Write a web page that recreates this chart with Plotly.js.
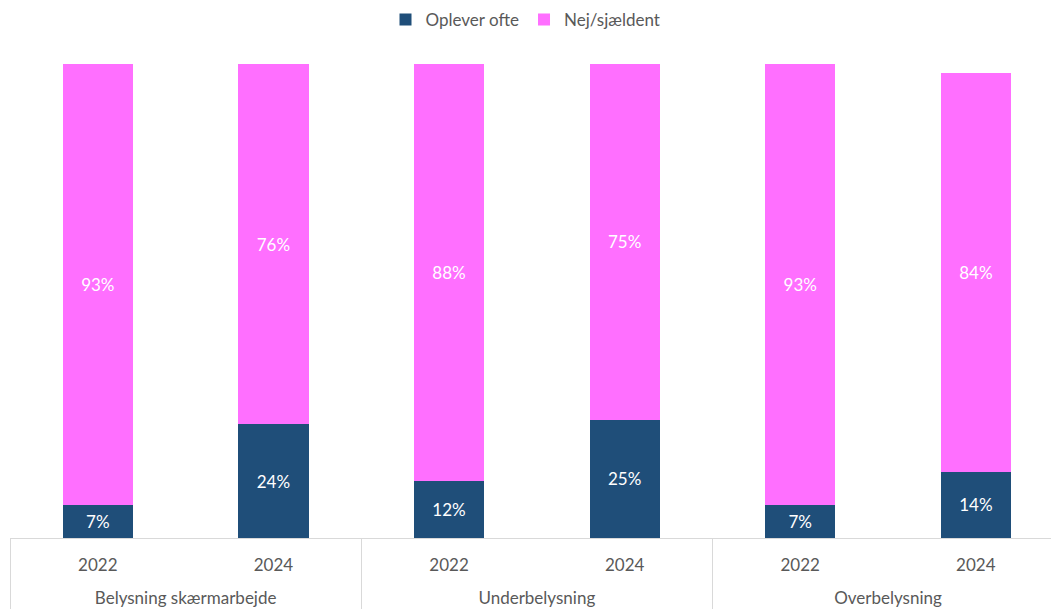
<!DOCTYPE html>
<html><head><meta charset="utf-8">
<script src="https://cdn.plot.ly/plotly-3.0.1.min.js"></script>
<style>html,body{margin:0;padding:0;background:#fff}#chart{width:1051px;height:610px}</style>
</head><body><div id="chart"></div>
<script>
const groups = ["Belysning skærmarbejde","Belysning skærmarbejde","Underbelysning","Underbelysning","Overbelysning","Overbelysning"];
const years = ["2022","2024","2022","2024","2022","2024"];
const oplever = [7,24,12,25,7,14];
const nej = [93,76,88,75,93,84];
const seriesNames = ["Oplever ofte","Nej/sjældent"];
const colors = ["#1F4E79","#FF6FFF"];
const FONT = "Lato, 'Open Sans', sans-serif";

// a blank second line under each year widens the gap to the group labels, as in the reference
const yearLabels = years.map(y => y + '<br> ');

const mk = (vals, i) => ({
  type: 'bar', x: [groups, yearLabels], y: vals, name: seriesNames[i],
  marker: {color: colors[i]},
  text: vals.map(v => v + '%'), texttemplate: '%{text}',
  textposition: 'inside', insidetextanchor: 'middle', constraintext: 'none',
  textfont: {color: '#ffffff', size: 17, family: FONT},
  hoverinfo: 'skip'
});

Plotly.newPlot('chart', [mk(oplever,0), mk(nej,1)], {
  width: 1051, height: 610,
  barmode: 'stack', bargap: 0.6,
  margin: {l: 10, r: 0, t: 64, b: 72, autoexpand: false},
  paper_bgcolor: '#fff', plot_bgcolor: '#fff',
  font: {family: FONT, color: '#595959', size: 17},
  showlegend: true,
  legend: {orientation: 'h', x: 0.5, xanchor: 'center', xref: 'container', yref: 'container', y: 1 - 20/610, yanchor: 'middle', font: {size: 17, color: '#595959'}, traceorder: 'normal'},
  xaxis: {type: 'multicategory', range: [-0.5, 5.428], showline: true, linecolor: '#d9d9d9', linewidth: 1,
          showdividers: true, dividercolor: '#d9d9d9', dividerwidth: 1, ticks: '', ticklabelstandoff: 12,
          tickfont: {size: 17, color: '#595959'}, fixedrange: true, automargin: false},
  yaxis: {range: [0, 100], visible: false, showgrid: false, zeroline: false, fixedrange: true}
}, {displayModeBar: false, staticPlot: true});
</script></body></html>
